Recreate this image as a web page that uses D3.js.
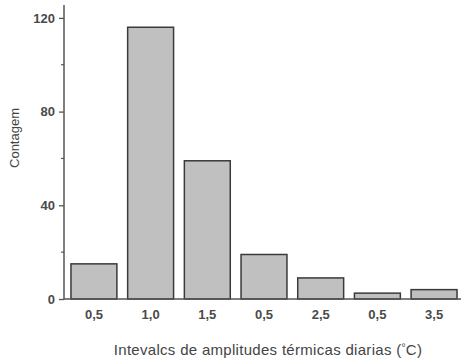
<!DOCTYPE html>
<html lang="pt">
  <head>
    <meta charset="utf-8">
    <title>Contagem</title>
    <style type="text/css">
      body{margin: 0; background: white;}
      .bar{fill: #c0c0c0; stroke: #3a3a3a; stroke-width: 1.5;}
      .tick text{font-family: "Liberation Sans", Arial, sans-serif; font-size: 13px; fill: #4a4a4a; font-weight: bold;}
      .axis-line{stroke: #555; stroke-width: 1.5;}
      .label{font-family: "Liberation Sans", Arial, sans-serif; fill: #444;}
    </style>
  </head>
  <body>
    <div id='svg_container'></div>
    <script src="https://d3js.org/d3.v7.min.js"></script>
    <script type="text/javascript">

      const w = 461;
      const h = 363;

      // categorias (rotulos como no original) e contagens
      const categories = ['0,5', '1,0', '1,5', '0,5 ', '2,5', '0,5  ', '3,5'];
      const counts = [15, 116, 59, 19, 9, 2.5, 4];
      const yTicks = [0, 40, 80, 120];
      const yMinor = [20, 60, 100];

      var svg = d3.select('#svg_container').append('svg')
        .attr('width', w).attr('height', h);

      var x = d3.scaleBand()
        .domain(categories)
        .range([67, 461])
        .paddingInner(0.19)
        .paddingOuter(0.07);

      var y = d3.scaleLinear()
        .domain([0, 125.5])
        .range([299, 5]);

      // barras
      svg.selectAll('rect.bar')
        .data(counts)
        .enter()
        .append('rect')
        .attr('class', 'bar')
        .attr('x', (d, i) => x(categories[i]))
        .attr('width', x.bandwidth())
        .attr('y', d => y(d))
        .attr('height', d => y(0) - y(d));

      // eixo y
      var yAxis = svg.append('g')
        .attr('transform', 'translate(64,0)')
        .call(d3.axisLeft(y).tickValues(yTicks).tickSize(5).tickPadding(4));
      yAxis.select('.domain').remove();
      yAxis.selectAll('.tick line').attr('stroke', '#555').attr('stroke-width', 1.3);

      svg.selectAll('line.minor')
        .data(yMinor)
        .enter()
        .append('line')
        .attr('class', 'minor')
        .attr('x1', 64).attr('x2', 61)
        .attr('y1', d => y(d)).attr('y2', d => y(d))
        .attr('stroke', '#555').attr('stroke-width', 1.2);

      svg.append('line').attr('class', 'axis-line')
        .attr('x1', 64).attr('x2', 64)
        .attr('y1', y(125.5)).attr('y2', y(0));

      // eixo x
      var xAxis = svg.append('g')
        .attr('transform', 'translate(0,' + y(0) + ')')
        .call(d3.axisBottom(x).tickSize(0).tickPadding(11));
      xAxis.select('.domain').remove();

      svg.append('line').attr('class', 'axis-line')
        .attr('x1', 64).attr('x2', 461)
        .attr('y1', y(0)).attr('y2', y(0));

      // titulos
      svg.append('text')
        .attr('class', 'label')
        .attr('transform', 'translate(19,138) rotate(-90)')
        .attr('text-anchor', 'middle')
        .attr('font-size', 13)
        .text('Contagem');

      var xt = svg.append('text')
        .attr('class', 'label')
        .attr('x', 268).attr('y', 355)
        .attr('text-anchor', 'middle')
        .attr('font-size', 15)
        .attr('letter-spacing', 0.3);
      xt.append('tspan').text('Intevalcs de amplitudes térmicas diarias (');
      xt.append('tspan').attr('dy', -4).attr('font-size', 10).text('°');
      xt.append('tspan').attr('dy', 4).text('C)');

    </script>
  </body>
</html>
